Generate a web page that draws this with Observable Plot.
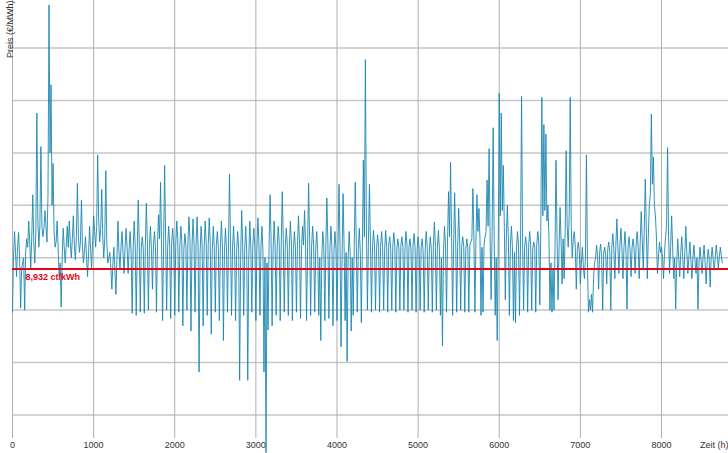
<!DOCTYPE html>
<html>
<head>
<meta charset="utf-8">
<script src="https://cdn.jsdelivr.net/npm/d3@7"></script>
<script src="https://cdn.jsdelivr.net/npm/@observablehq/plot@0.6"></script>
<style>
  html, body { margin: 0; padding: 0; background: #fff; }
</style>
</head>
<body>
<div id="chart"></div>
<script>
// Hourly spot price, every 12.5 hours: peaks, troughs and the dense core band (€/MWh)
const stepHours = 12.5;
const price = [
  48, 100, 125, 105, 82, 110, 124, 100, 52, 90, 95, 100, 50, 105, 118, 110,
  135, 115, 90, 120, 160, 115, 95, 125, 238, 135, 110, 130, 206, 130, 120, 128,
  145, 130, 115, 160, 341, 200, 265, 150, 190, 125, 110, 115, 135, 110, 82, 95,
  53, 100, 128, 110, 95, 112, 130, 110, 135, 115, 100, 118, 140, 112, 98, 120,
  171, 120, 105, 115, 155, 110, 95, 108, 120, 100, 82, 104, 130, 108, 90, 115,
  140, 125, 110, 130, 198, 135, 115, 128, 165, 120, 100, 118, 183, 115, 95, 100,
  105, 90, 70, 95, 110, 88, 65, 100, 135, 105, 90, 110, 125, 105, 85, 110,
  128, 110, 85, 108, 125, 105, 47, 110, 135, 112, 45, 108, 155, 115, 48, 110,
  120, 108, 47, 112, 152, 115, 50, 110, 130, 108, 70, 112, 125, 110, 48, 115,
  141, 118, 172, 110, 40, 112, 188, 120, 50, 110, 130, 112, 42, 115, 128, 110,
  45, 112, 135, 118, 48, 110, 130, 115, 35, 108, 123, 112, 50, 115, 139, 118,
  30, 110, 137, 115, 48, 112, 139, 110, -9, 105, 130, 112, 35, 110, 135, 115,
  45, 112, 138, 115, 27, 108, 130, 110, 48, 112, 125, 108, 40, 110, 135, 112,
  21, 105, 128, 110, 48, 112, 180, 115, 45, 110, 130, 108, 40, 105, 125, 110,
  -17, 100, 145, 112, 45, 108, 130, 105, -17, 100, 135, 110, 48, 112, 128, 110,
  40, 108, 138, 115, 45, 110, 130, 105, -9, 100, -86, 95, 31, 110, 160, 118,
  35, 108, 135, 112, 45, 110, 130, 115, 40, 112, 163, 118, 48, 110, 128, 112,
  45, 110, 135, 115, 40, 108, 125, 110, 48, 112, 140, 115, 42, 108, 130, 112,
  145, 115, 40, 110, 171, 118, 45, 112, 130, 110, 48, 108, 125, 105, 45, 100,
  21, 100, 125, 110, 40, 112, 157, 115, 42, 108, 130, 110, 35, 105, 125, 108,
  40, 110, 170, 112, 15, 100, 161, 110, 40, 105, 1, 100, 125, 105, 30, 100,
  45, 110, 172, 115, 48, 108, 128, 105, 38, 110, 193, 120, 289, 130, 50, 115,
  170, 115, 48, 110, 126, 112, 50, 108, 122, 110, 48, 112, 125, 110, 50, 108,
  126, 110, 48, 112, 120, 108, 50, 110, 124, 112, 48, 108, 118, 110, 50, 112,
  120, 110, 50, 108, 125, 112, 48, 110, 118, 108, 50, 112, 123, 110, 48, 108,
  120, 108, 50, 110, 118, 105, 48, 108, 125, 110, 50, 105, 120, 108, 48, 110,
  134, 112, 50, 110, 126, 108, 45, 100, 16, 105, 130, 112, 48, 115, 163, 120,
  191, 120, 45, 112, 162, 118, 48, 110, 147, 115, 50, 112, 120, 110, 48, 108,
  118, 110, 48, 112, 115, 118, 166, 120, 48, 115, 160, 125, 147, 118, 45, 110,
  48, 112, 120, 125, 174, 130, 204, 120, 60, 125, 224, 120, 45, 100, 21, 110,
  257, 140, 238, 145, 188, 130, 60, 120, 150, 118, 45, 112, 130, 110, 40, 105,
  38, 108, 125, 112, 45, 115, 254, 118, 50, 110, 120, 112, 48, 110, 125, 112,
  50, 108, 115, 110, 48, 112, 125, 115, 55, 130, 253, 140, 227, 145, 218, 135,
  150, 120, 50, 95, 48, 90, 50, 110, 193, 120, 60, 110, 148, 115, 75, 118,
  80, 125, 202, 130, 110, 140, 253, 130, 100, 118, 125, 110, 70, 108, 115, 105,
  75, 95, 110, 90, 80, 100, 198, 95, 48, 60, 50, 65, 48, 80, 95, 100,
  112, 100, 70, 105, 113, 100, 50, 105, 110, 102, 75, 108, 115, 105, 50, 110,
  123, 108, 80, 112, 137, 110, 85, 112, 128, 108, 80, 110, 125, 105, 51, 110,
  120, 108, 82, 110, 118, 108, 85, 112, 125, 110, 80, 115, 144, 118, 88, 125,
  175, 130, 80, 120, 150, 160, 237, 170, 196, 150, 140, 120, 85, 100, 115, 105,
  110, 100, 80, 105, 120, 130, 205, 120, 85, 110, 140, 110, 80, 100, 51, 95,
  118, 100, 82, 105, 120, 100, 80, 105, 130, 105, 85, 100, 115, 98, 80, 100,
  112, 98, 85, 100, 51, 95, 110, 98, 85, 100, 112, 95, 75, 95, 108, 100,
  72, 100, 110, 98, 88, 100, 112, 102, 90, 100, 110, 102, 95
];
const xTicks = [0, 1000, 2000, 3000, 4000, 5000, 6000, 7000, 8000];
const yGrid = [-50, 0, 50, 100, 150, 200, 250, 300];
const avgPrice = 89.32;
const avgLabel = "8,932 ct/kWh";
const yLabel = "Preis (€/MWh)";
const xLabel = "Zeit (h)";

const data = price.map((v, i) => ({hour: i * stepHours, price: v}));

const chart = Plot.plot({
  width: 728,
  height: 453,
  marginLeft: 12,
  marginRight: 0,
  marginTop: 0,
  marginBottom: 15,
  style: {fontFamily: "'Liberation Sans', Arial, Helvetica, sans-serif", fontSize: "9px", color: "#333", background: "#fff"},
  x: {domain: [0, 8826]},
  y: {domain: [-72.5, 345.4], axis: null},
  marks: [
    Plot.ruleY(yGrid, {stroke: "#c6c6c6", strokeWidth: 1.5}),
    Plot.ruleX(xTicks, {stroke: "#b0b0b0", strokeWidth: 1}),
    Plot.axisX({ticks: xTicks, tickSize: 0, tickPadding: 3, label: null, tickFormat: d => String(d), fill: "#333"}),
    Plot.lineY(data, {x: "hour", y: "price", stroke: "#1a87b1", strokeWidth: 0.9}),
    Plot.ruleY([avgPrice], {stroke: "#e3051b", strokeWidth: 2}),
    Plot.text([avgPrice], {y: d => d, frameAnchor: "left", dx: 13, dy: 8, text: () => avgLabel, fill: "#e3051b", fontWeight: "bold", textAnchor: "start"}),
    Plot.text([yLabel], {frameAnchor: "top-left", text: d => d, rotate: -90, textAnchor: "end", dx: -6, fill: "#333"}),
    Plot.text([xLabel], {frameAnchor: "bottom-right", text: d => d, textAnchor: "end", dy: 7, lineAnchor: "middle", fill: "#333"})
  ]
});
document.getElementById("chart").appendChild(chart);
</script>
</body>
</html>
